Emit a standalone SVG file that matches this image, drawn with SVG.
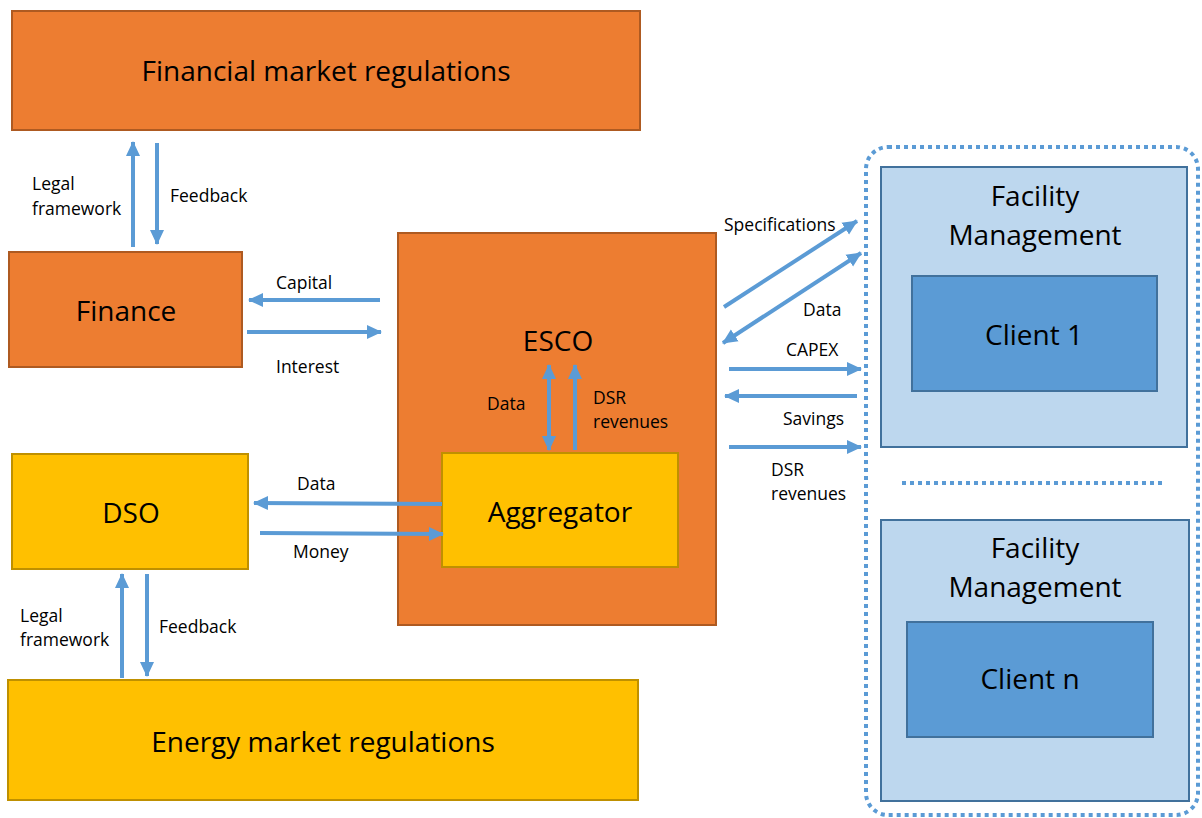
<svg xmlns="http://www.w3.org/2000/svg" width="1202" height="818" viewBox="0 0 1202 818">
<defs>
<marker id="ah" markerUnits="userSpaceOnUse" markerWidth="16" markerHeight="16" viewBox="0 0 16 16" refX="14" refY="8" orient="auto-start-reverse">
<path d="M0,1 L15,8 L0,15 Z" fill="#5B9BD5"/>
</marker>
<style>
.orange{fill:#ED7D31;stroke:#AE5A21;stroke-width:2}
.yellow{fill:#FFC000;stroke:#BF9000;stroke-width:2}
.fm{fill:#BDD7EE;stroke:#41719C;stroke-width:2}
.cl{fill:#5B9BD5;stroke:#41719C;stroke-width:2}
.arr{stroke:#5B9BD5;stroke-width:4;fill:none;marker-end:url(#ah)}
.arr2{stroke:#5B9BD5;stroke-width:4;fill:none;marker-end:url(#ah);marker-start:url(#ah)}
.dot{stroke:#5B9BD5;stroke-width:4;fill:none;stroke-dasharray:4 4}
text{font-family:"Open Sans","Noto Sans",sans-serif;fill:#000}
.big{font-size:28px;text-anchor:middle}
.lbl{font-size:17.5px}
</style>
</defs>
<rect width="1202" height="818" fill="#fff"/>
<g id="container">
<rect class="dot" x="866" y="147" width="332" height="668" rx="22"/>
<line class="dot" x1="902" y1="483" x2="1166" y2="483"/>
</g>
<g id="financial-market-regulations">
<rect class="orange" x="12" y="11" width="628" height="119"/>
<text class="big" x="326" y="81">Financial market regulations</text>
</g>
<g id="finance">
<rect class="orange" x="9" y="252" width="233" height="115"/>
<text class="big" x="126" y="321">Finance</text>
</g>
<g id="esco">
<rect class="orange" x="398" y="233" width="318" height="392"/>
<text class="big" x="558" y="351">ESCO</text>
</g>
<g id="aggregator">
<rect class="yellow" x="442" y="453" width="236" height="114"/>
<text class="big" x="560" y="522">Aggregator</text>
</g>
<g id="dso">
<rect class="yellow" x="12" y="454" width="236" height="115"/>
<text class="big" x="131" y="523">DSO</text>
</g>
<g id="energy-market-regulations">
<rect class="yellow" x="8" y="680" width="630" height="120"/>
<text class="big" x="323" y="752">Energy market regulations</text>
</g>
<g id="facility-management-1">
<rect class="fm" x="881" y="167" width="306" height="280"/>
<text class="big" x="1035" y="206">Facility</text>
<text class="big" x="1035" y="245">Management</text>
</g>
<g id="client-1">
<rect class="cl" x="912" y="276" width="245" height="115"/>
<text class="big" x="1034" y="345">Client 1</text>
</g>
<g id="facility-management-n">
<rect class="fm" x="881" y="520" width="308" height="281"/>
<text class="big" x="1035" y="558">Facility</text>
<text class="big" x="1035" y="597">Management</text>
</g>
<g id="client-n">
<rect class="cl" x="907" y="622" width="246" height="115"/>
<text class="big" x="1030" y="689">Client n</text>
</g>
<g id="connectors">
<line class="arr" x1="133" y1="247" x2="133" y2="142"/>
<line class="arr" x1="157" y1="143" x2="157" y2="244"/>
<line class="arr" x1="380" y1="300" x2="249" y2="300"/>
<line class="arr" x1="247" y1="332" x2="381" y2="332"/>
<line class="arr" x1="724" y1="307" x2="857" y2="221"/>
<line class="arr2" x1="723" y1="343" x2="861" y2="253"/>
<line class="arr" x1="729" y1="369" x2="861" y2="369"/>
<line class="arr" x1="857" y1="396" x2="725" y2="396"/>
<line class="arr" x1="729" y1="447" x2="861" y2="447"/>
<line class="arr2" x1="549" y1="450" x2="549" y2="365"/>
<line class="arr" x1="575" y1="450" x2="575" y2="365"/>
<line class="arr" x1="442" y1="504" x2="254" y2="503"/>
<line class="arr" x1="260" y1="533" x2="443" y2="534"/>
<line class="arr" x1="122" y1="678" x2="122" y2="574"/>
<line class="arr" x1="147" y1="574" x2="147" y2="676"/>
</g>
<g id="labels">
<text class="lbl" x="32" y="190">Legal</text>
<text class="lbl" x="32" y="215">framework</text>
<text class="lbl" x="170" y="202">Feedback</text>
<text class="lbl" x="276" y="289">Capital</text>
<text class="lbl" x="276" y="373">Interest</text>
<text class="lbl" x="487" y="410">Data</text>
<text class="lbl" x="593" y="404">DSR</text>
<text class="lbl" x="593" y="428">revenues</text>
<text class="lbl" x="724" y="231">Specifications</text>
<text class="lbl" x="803" y="316">Data</text>
<text class="lbl" x="786" y="356">CAPEX</text>
<text class="lbl" x="783" y="425">Savings</text>
<text class="lbl" x="771" y="476">DSR</text>
<text class="lbl" x="771" y="500">revenues</text>
<text class="lbl" x="297" y="490">Data</text>
<text class="lbl" x="293" y="558">Money</text>
<text class="lbl" x="20" y="622">Legal</text>
<text class="lbl" x="20" y="646">framework</text>
<text class="lbl" x="159" y="633">Feedback</text>
</g>
</svg>
